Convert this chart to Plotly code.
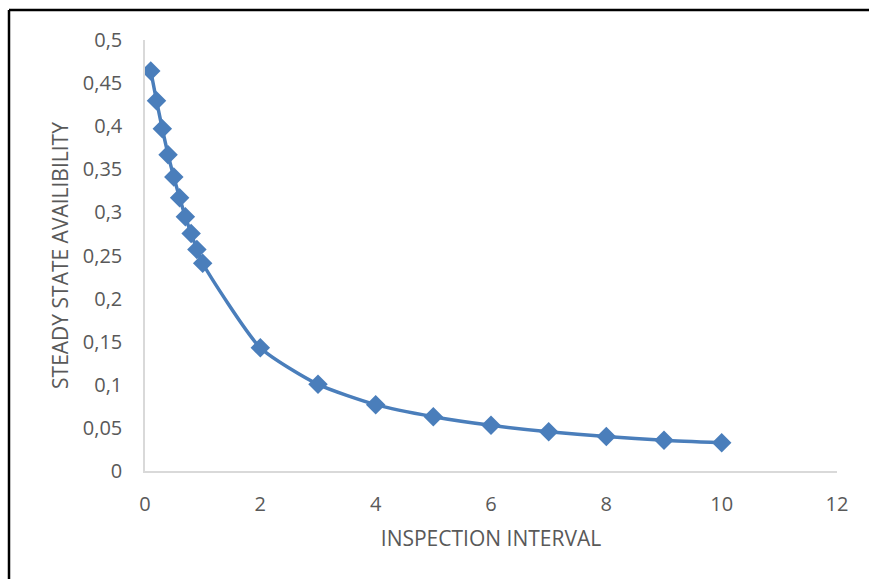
import plotly.graph_objects as go

# Data
inspection_interval = [0.1, 0.2, 0.3, 0.4, 0.5, 0.6, 0.7, 0.8, 0.9, 1.0,
                       2, 3, 4, 5, 6, 7, 8, 9, 10]
availability = [0.464, 0.4295, 0.397, 0.367, 0.341, 0.317, 0.295, 0.2755, 0.257, 0.241,
                0.143, 0.1005, 0.077, 0.063, 0.053, 0.0455, 0.040, 0.0356, 0.0327]

y_tick_vals = [0, 0.05, 0.1, 0.15, 0.2, 0.25, 0.3, 0.35, 0.4, 0.45, 0.5]
y_tick_labels = ["0", "0,05", "0,1", "0,15", "0,2", "0,25", "0,3", "0,35", "0,4", "0,45", "0,5"]
x_tick_vals = [0, 2, 4, 6, 8, 10, 12]
x_tick_labels = ["0", "2", "4", "6", "8", "10", "12"]

color = "#4a7ebb"
font_family = "Open Sans, Lato, sans-serif"

fig = go.Figure()
fig.add_trace(go.Scatter(
    x=inspection_interval, y=availability,
    mode="lines+markers",
    line=dict(color=color, width=3.5, shape="spline", smoothing=0.6),
    marker=dict(symbol="diamond", size=15, color=color),
    showlegend=False,
))

W, H = 869, 579
L, R, T, B = 145, 32, 40, 108

fig.update_layout(
    width=W, height=H,
    margin=dict(l=L, r=R, t=T, b=B),
    paper_bgcolor="white", plot_bgcolor="white",
    font=dict(family=font_family, color="#595959", size=20),
    xaxis=dict(
        range=[0, 12], tickvals=x_tick_vals, ticktext=x_tick_labels,
        showgrid=False, zeroline=False, showline=True, linecolor="#d9d9d9", linewidth=1.5,
        ticks="", ticklabelstandoff=14,
        title=dict(text="INSPECTION INTERVAL", font=dict(size=21, color="#595959"), standoff=16),
    ),
    yaxis=dict(
        range=[0, 0.5], tickvals=y_tick_vals, ticktext=y_tick_labels,
        showgrid=False, zeroline=False, showline=True, linecolor="#d9d9d9", linewidth=1.5,
        ticks="", ticklabelstandoff=17,
        title=dict(text="STEADY STATE AVAILIBILITY", font=dict(size=21, color="#595959"), standoff=8),
    ),
)

# Frame border (left and top edges of the chart area picture)
pw = W - L - R
ph = H - T - B
x_left = (9 - L) / pw
y_top = 1 + (T - 10) / ph
y_bot = -(H - T - ph) / ph - 0.01
fig.add_shape(type="line", xref="paper", yref="paper", x0=x_left, x1=x_left, y0=y_bot, y1=y_top,
              line=dict(color="black", width=2.5))
fig.add_shape(type="line", xref="paper", yref="paper", x0=x_left, x1=1 + (R + 5) / pw, y0=y_top, y1=y_top,
              line=dict(color="black", width=2.5))

fig.write_html("out.html")
